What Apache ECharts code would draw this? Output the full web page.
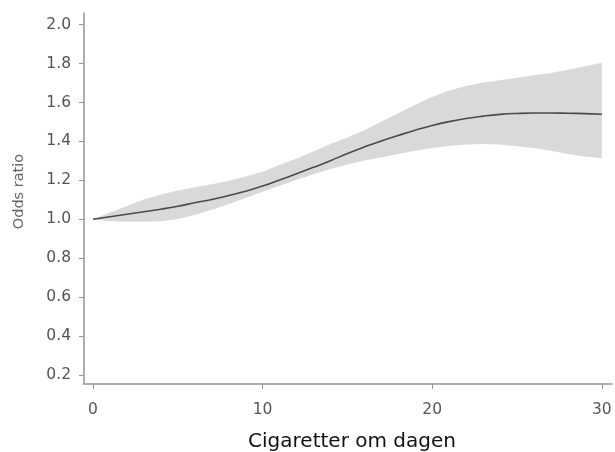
<!DOCTYPE html>
<html>
<head>
<meta charset="utf-8">
<script src="https://cdn.jsdelivr.net/npm/echarts@6/dist/echarts.min.js"></script>
<style>html,body{margin:0;padding:0;background:#fff}#c{width:615px;height:452px}</style>
</head>
<body>
<div id="c"></div>
<script>
var cigs = [0,1,2,3,4,5,6,7,8,9,10,11,12,13,14,15,16,17,18,19,20,21,22,23,24,25,26,27,28,29,30];
var oddsRatio = [1.000,1.013,1.026,1.039,1.052,1.067,1.085,1.102,1.122,1.144,1.171,1.202,1.234,1.267,1.301,1.338,1.372,1.403,1.431,1.458,1.482,1.502,1.518,1.530,1.539,1.544,1.546,1.546,1.545,1.543,1.540];
var upperCI = [1.000,1.035,1.068,1.102,1.128,1.148,1.165,1.180,1.198,1.220,1.245,1.279,1.312,1.348,1.387,1.420,1.458,1.502,1.545,1.588,1.628,1.662,1.685,1.703,1.715,1.727,1.740,1.752,1.768,1.786,1.805];
var lowerCI = [1.000,0.992,0.988,0.988,0.990,1.002,1.022,1.049,1.077,1.109,1.142,1.172,1.202,1.232,1.259,1.282,1.302,1.318,1.335,1.352,1.366,1.377,1.384,1.387,1.384,1.376,1.366,1.352,1.336,1.323,1.314];
var xTicks = [0,10,20,30];
var yTicks = [0.2,0.4,0.6,0.8,1.0,1.2,1.4,1.6,1.8,2.0];

var linePts = cigs.map(function(x,i){return [x, oddsRatio[i]];});

var chart = echarts.init(document.getElementById('c'), null, {renderer:'canvas'});
var axisCol = '#959595';
var FONT = 'DejaVu Sans';
chart.setOption({
  animation:false,
  backgroundColor:'#fff',
  grid:{left:84,right:3,top:13,bottom:68,containLabel:false,outerBoundsMode:'none'},
  xAxis:{
    type:'value', min:-0.53, max:30.6,
    name:'Cigaretter om dagen', nameLocation:'middle', nameGap:48, nameMoveOverlap:false,
    nameTextStyle:{fontFamily:FONT,fontSize:20,color:'#111',padding:[0,0,0,8]},
    axisLine:{show:true,onZero:false,lineStyle:{color:axisCol,width:1.5}},
    axisTick:{show:true,length:5,customValues:xTicks,lineStyle:{color:axisCol}},
    axisLabel:{customValues:xTicks,margin:18,fontFamily:FONT,fontSize:15.5,color:'#555'},
    splitLine:{show:false}
  },
  yAxis:{
    type:'value', min:0.154, max:2.06,
    name:'Odds ratio', nameLocation:'middle', nameGap:57, nameRotate:90, nameMoveOverlap:false,
    nameTextStyle:{fontFamily:FONT,fontSize:14.5,color:'#666',padding:[0,0,0,14]},
    axisLine:{show:true,onZero:false,lineStyle:{color:axisCol,width:1.5}},
    axisTick:{show:true,length:5,customValues:yTicks,lineStyle:{color:axisCol}},
    axisLabel:{customValues:yTicks,margin:13,fontFamily:FONT,fontSize:15.5,color:'#555',
      formatter:function(v){return v.toFixed(1);}},
    splitLine:{show:false}
  },
  series:[
    {type:'custom',silent:true,clip:true,z:1,
      data:[[0]],
      renderItem:function(params, api){
        var pts = [];
        for (var i=0;i<cigs.length;i++) pts.push(api.coord([cigs[i], upperCI[i]]));
        for (var j=cigs.length-1;j>=0;j--) pts.push(api.coord([cigs[j], lowerCI[j]]));
        return {type:'polygon', shape:{points:pts}, style:{fill:'#d9d9d9', stroke:null}};
      }},
    {type:'line',data:linePts,smooth:true,showSymbol:false,lineStyle:{color:'#4a4a4a',width:1.6},z:5}
  ]
});
</script>
</body>
</html>
